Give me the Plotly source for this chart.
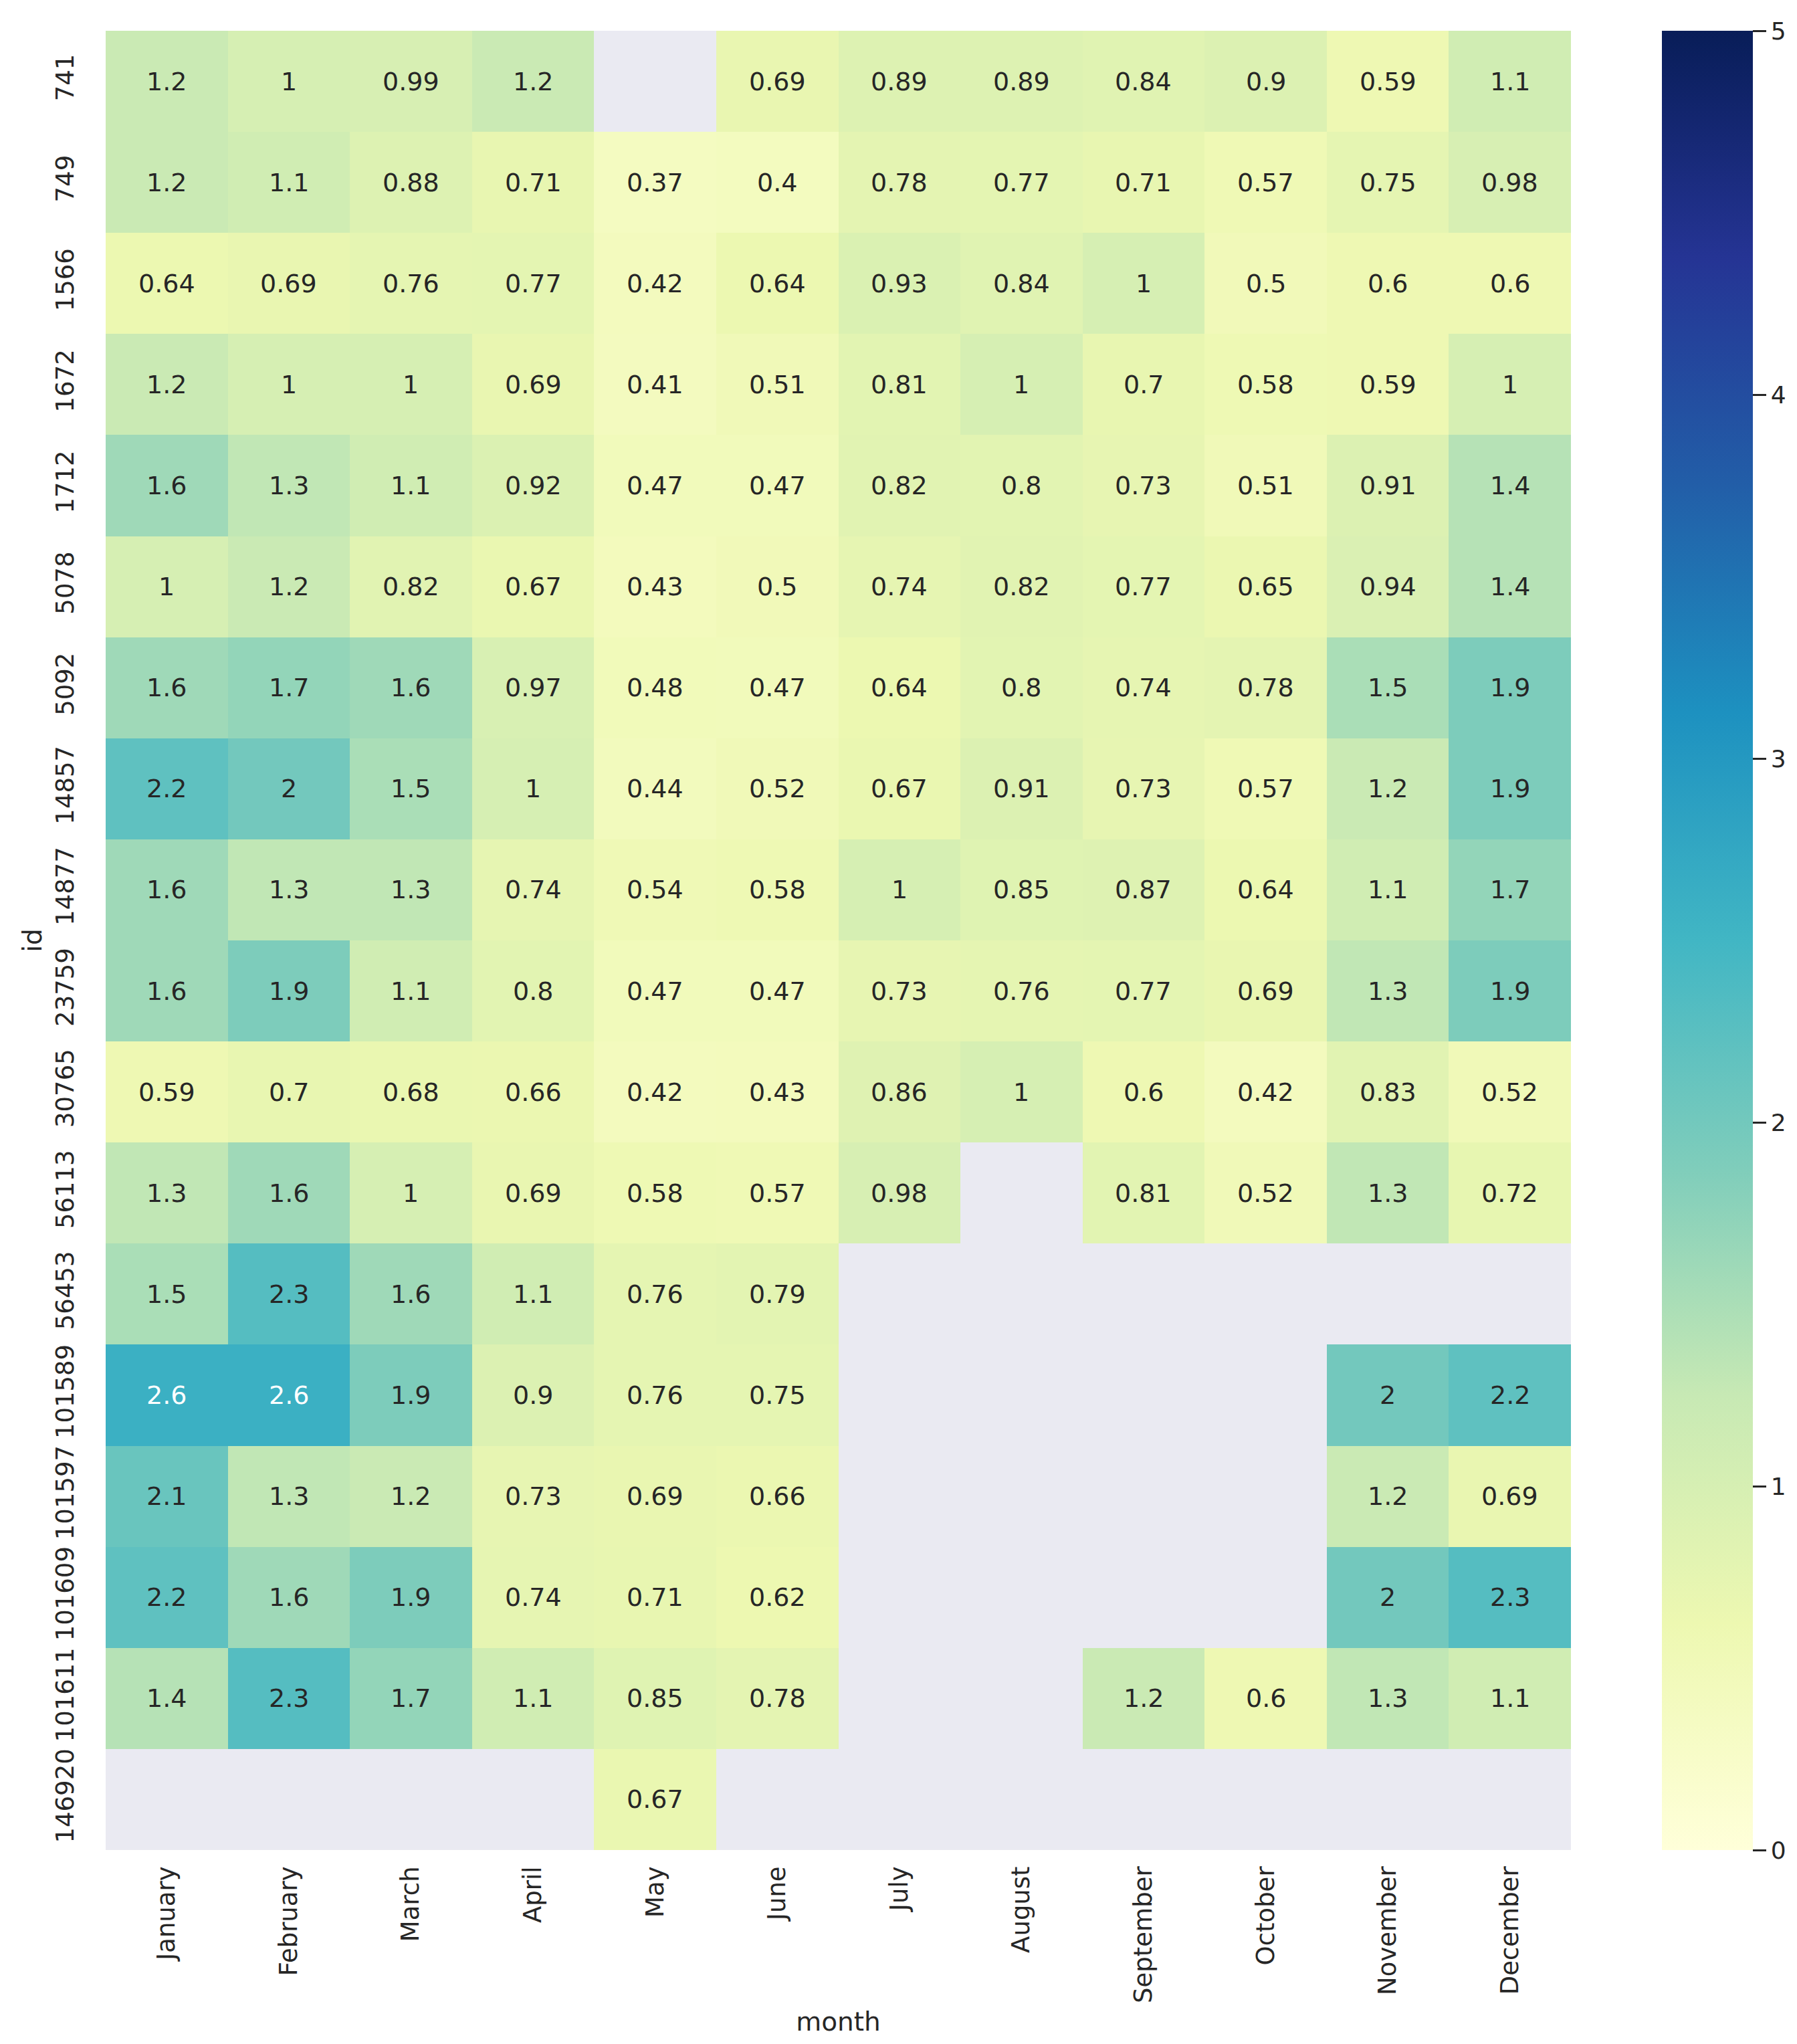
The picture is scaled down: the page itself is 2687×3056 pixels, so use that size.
import plotly.graph_objects as go

months = ["January", "February", "March", "April", "May", "June", "July",
          "August", "September", "October", "November", "December"]
ids = ["741", "749", "1566", "1672", "1712", "5078", "5092", "14857", "14877",
       "23759", "30765", "56113", "56453", "101589", "101597", "101609", "101611", "146920"]

N = None
r741 = [1.2, 1, 0.99, 1.2, N, 0.69, 0.89, 0.89, 0.84, 0.9, 0.59, 1.1]
r749 = [1.2, 1.1, 0.88, 0.71, 0.37, 0.4, 0.78, 0.77, 0.71, 0.57, 0.75, 0.98]
r1566 = [0.64, 0.69, 0.76, 0.77, 0.42, 0.64, 0.93, 0.84, 1, 0.5, 0.6, 0.6]
r1672 = [1.2, 1, 1, 0.69, 0.41, 0.51, 0.81, 1, 0.7, 0.58, 0.59, 1]
r1712 = [1.6, 1.3, 1.1, 0.92, 0.47, 0.47, 0.82, 0.8, 0.73, 0.51, 0.91, 1.4]
r5078 = [1, 1.2, 0.82, 0.67, 0.43, 0.5, 0.74, 0.82, 0.77, 0.65, 0.94, 1.4]
r5092 = [1.6, 1.7, 1.6, 0.97, 0.48, 0.47, 0.64, 0.8, 0.74, 0.78, 1.5, 1.9]
r14857 = [2.2, 2, 1.5, 1, 0.44, 0.52, 0.67, 0.91, 0.73, 0.57, 1.2, 1.9]
r14877 = [1.6, 1.3, 1.3, 0.74, 0.54, 0.58, 1, 0.85, 0.87, 0.64, 1.1, 1.7]
r23759 = [1.6, 1.9, 1.1, 0.8, 0.47, 0.47, 0.73, 0.76, 0.77, 0.69, 1.3, 1.9]
r30765 = [0.59, 0.7, 0.68, 0.66, 0.42, 0.43, 0.86, 1, 0.6, 0.42, 0.83, 0.52]
r56113 = [1.3, 1.6, 1, 0.69, 0.58, 0.57, 0.98, N, 0.81, 0.52, 1.3, 0.72]
r56453 = [1.5, 2.3, 1.6, 1.1, 0.76, 0.79, N, N, N, N, N, N]
r101589 = [2.6, 2.6, 1.9, 0.9, 0.76, 0.75, N, N, N, N, 2, 2.2]
r101597 = [2.1, 1.3, 1.2, 0.73, 0.69, 0.66, N, N, N, N, 1.2, 0.69]
r101609 = [2.2, 1.6, 1.9, 0.74, 0.71, 0.62, N, N, N, N, 2, 2.3]
r101611 = [1.4, 2.3, 1.7, 1.1, 0.85, 0.78, N, N, 1.2, 0.6, 1.3, 1.1]
r146920 = [N, N, N, N, 0.67, N, N, N, N, N, N, N]

z = [r741, r749, r1566, r1672, r1712, r5078, r5092, r14857, r14877,
     r23759, r30765, r56113, r56453, r101589, r101597, r101609, r101611, r146920]

# matplotlib YlGnBu
ylgnbu = ["#ffffd9", "#edf8b1", "#c7e9b4", "#7fcdbb", "#41b6c4",
          "#1d91c0", "#225ea8", "#253494", "#081d58"]
cscale = [[i / 8, c] for i, c in enumerate(ylgnbu)]
vmin, vmax = 0, 5

def hex2rgb(h):
    return [int(h[i:i + 2], 16) for i in (1, 3, 5)]

def cmap(v): # interpolate colormap -> rgb
    t = min(max((v - vmin) / (vmax - vmin), 0), 1) * 8
    i = min(int(t), 7)
    f = t - i
    a, b = hex2rgb(ylgnbu[i]), hex2rgb(ylgnbu[i + 1])
    return [a[k] + (b[k] - a[k]) * f for k in range(3)]

def lum(rgb): # relative luminance like seaborn
    out = []
    for c in rgb:
        c = c / 255
        out.append(c / 12.92 if c <= 0.03928 else ((c + 0.055) / 1.055) ** 2.4)
    return 0.2126 * out[0] + 0.7152 * out[1] + 0.0722 * out[2]

txtcol = "#262626"
fnt = "DejaVu Sans"
xpos = list(range(len(months)))
ypos = list(range(len(ids)))

fig = go.Figure()
fig.add_trace(go.Heatmap(
    z=z, x=xpos, y=ypos, colorscale=cscale, zmin=vmin, zmax=vmax,
    hoverongaps=False,
    colorbar=dict(thickness=136, thicknessmode="pixels", len=1, lenmode="fraction",
                  x=1.062, xanchor="left", y=0.5, yanchor="middle", outlinewidth=0,
                  xpad=0, ypad=0,
                  tickmode="linear", tick0=0, dtick=1, ticks="outside", ticklen=20,
                  tickwidth=3, tickcolor=txtcol,
                  tickfont=dict(family=fnt, size=36, color=txtcol)),
))

annos = []
for yi, row in zip(ypos, z):
    for xi, v in zip(xpos, row):
        if v is None:
            continue
        col = "#ffffff" if lum(cmap(v)) <= 0.408 else txtcol
        annos.append(dict(x=xi, y=yi, text=format(v, ".2g"), showarrow=False,
                          font=dict(family=fnt, size=38, color=col)))

fig.update_layout(
    width=2687, height=3056,
    margin=dict(l=150, r=346, t=38, b=298),
    paper_bgcolor="white", plot_bgcolor="#eaeaf2",
    font=dict(family=fnt, color=txtcol, size=37),
    annotations=annos,
)
fig.update_xaxes(tickmode="array", tickvals=xpos, ticktext=months, range=[-0.5, len(months) - 0.5],
                 tickangle=-90, showgrid=False, zeroline=False,
                 ticks="", tickfont=dict(size=37), ticklabelstandoff=16,
                 title=dict(text="month", font=dict(size=39), standoff=14))
fig.update_yaxes(tickmode="array", tickvals=ypos, ticktext=ids, range=[len(ids) - 0.5, -0.5],
                 tickangle=-90, showgrid=False,
                 zeroline=False, ticks="", tickfont=dict(size=37), ticklabelstandoff=40,
                 title=dict(text="id", font=dict(size=39), standoff=0))

fig.write_html("out.html")
